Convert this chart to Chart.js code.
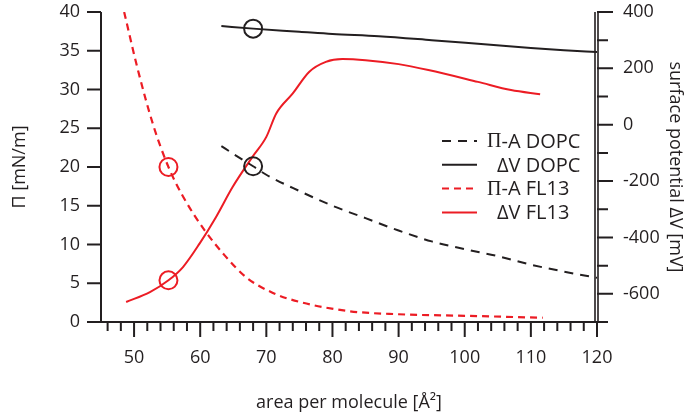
<!DOCTYPE html>
<html>
<head>
<meta charset="utf-8">
<script src="https://cdn.jsdelivr.net/npm/chart.js@4.4.1/dist/chart.umd.min.js"></script>
<style>
  html, body { margin: 0; padding: 0; background: #fff; }
</style>
</head>
<body>
<canvas id="chart" width="686" height="420"></canvas>
<script>
// Data

var areaPiDOPC = [63.2, 65, 68, 70, 75, 80, 85, 90, 95, 100, 105, 110, 115, 120];
var piDOPC     = [22.7, 21.7, 20.1, 19.0, 16.9, 15.0, 13.4, 11.8, 10.4, 9.4, 8.5, 7.4, 6.5, 5.7];

var areaDvDOPC = [63.2, 68, 75, 80, 87, 95, 102, 110, 115, 120];
var dvDOPC     = [350, 341, 330, 322, 314, 300, 287, 272, 264, 258];

var areaPiFL13 = [48.5, 50.5, 52.9, 55.2, 57.4, 60.7, 63.7, 66.9, 71, 75, 82.5, 90, 100, 111.8];
var piFL13     = [40, 32.8, 25.4, 20.0, 16.2, 11.8, 8.6, 5.8, 3.75, 2.6, 1.4, 1.0, 0.8, 0.55];

var areaDvFL13 = [48.8, 52.4, 55.2, 57.4, 59.9, 62.4, 64.9, 67.9, 70, 71.5, 74, 76.5, 79, 81.5, 85, 90, 94.5, 102, 107, 111.4];
var dvFL13     = [-629, -594, -552, -505, -422, -327, -221, -114, -43, 40, 111, 188, 223, 233, 229, 215, 194, 152, 123, 108];

// circled points
var markDOPC = 68;
var markFL13 = 55.2;

var xTicks  = [50, 60, 70, 80, 90, 100, 110, 120];
var piTicks = [0, 5, 10, 15, 20, 25, 30, 35, 40];
var dvTicks = [-600, -400, -200, 0, 200, 400];

var ink = '#231f20';
var red = '#ec1c24';

function pts(xs, ys) {
    return xs.map(function (x, i) { return { x: x, y: ys[i] }; });
}

function ring(mark) {
    return function (ctx) {
        return ctx.raw && ctx.raw.x === mark ? 9 : 0;
    };
}

Chart.defaults.font.family = "'Open Sans', sans-serif";
Chart.defaults.font.size = 18;
Chart.defaults.color = ink;

// Axis lines + major/minor ticks

var axisPlugin = {
    id: 'axes',
    afterDraw: function (chart) {
        var c = chart.ctx, a = chart.chartArea;
        var sx = chart.scales.x, sl = chart.scales.y, sr = chart.scales.y1;
        c.save();
        c.strokeStyle = ink;
        c.lineWidth = 2;
        c.beginPath();
        c.moveTo(a.left, a.top); c.lineTo(a.left, a.bottom);
        c.moveTo(a.left, a.bottom); c.lineTo(a.right, a.bottom);
        piTicks.forEach(function (v) {
            var p = sl.getPixelForValue(v);
            c.moveTo(a.left - 14, p); c.lineTo(a.left, p);
        });
        for (var v = 46; v <= 120; v += 2) {
            var p = sx.getPixelForValue(v);
            c.moveTo(p, a.bottom); c.lineTo(p, a.bottom + (v % 10 === 0 ? 15 : 9));
        }
        for (var w = -700; w <= 400; w += 100) {
            var q = sr.getPixelForValue(w);
            c.moveTo(a.right, q); c.lineTo(a.right + (w % 200 === 0 ? 16 : 11), q);
        }
        c.stroke();
        // right axis drawn double
        c.lineWidth = 1.6;
        c.beginPath();
        c.moveTo(a.right - 2, a.top); c.lineTo(a.right - 2, a.bottom);
        c.moveTo(a.right + 1, a.top); c.lineTo(a.right + 1, a.bottom);
        c.stroke();
        c.restore();
    }
};

// Legend inside the plot (Π set in a serif face like the original)

var legendPlugin = {
    id: 'innerLegend',
    afterDatasetsDraw: function (chart) {
        var c = chart.ctx;
        var x0 = 442, y0 = 141, gap = 23.8;
        c.save();
        c.textBaseline = 'middle';
        c.fillStyle = ink;
        chart.data.datasets.forEach(function (ds, i) {
            var y = y0 + i * gap;
            c.strokeStyle = ds.borderColor;
            c.lineWidth = 2;
            c.setLineDash(ds.borderDash || []);
            c.beginPath(); c.moveTo(x0, y); c.lineTo(x0 + 35, y); c.stroke();
            c.setLineDash([]);
            var label = ds.label, tx = x0 + 45;
            if (label.charAt(0) === 'Π') {
                c.font = "20px 'Liberation Serif'";
                c.fillText('Π', tx, y + 1);
                tx += c.measureText('Π').width;
                label = label.slice(1);
            } else {
                tx = x0 + 55;
            }
            c.font = "20px 'Open Sans'";
            c.fillText(label, tx, y + 1);
        });
        c.restore();
    }
};

function flatPad(s) {
    s.paddingTop = 0;
    s.paddingBottom = 0;
}

new Chart(document.getElementById('chart'), {
    type: 'line',
    data: {
        datasets: [
            {
                label: 'Π-A DOPC',
                data: pts(areaPiDOPC, piDOPC),
                yAxisID: 'y',
                borderColor: ink,
                borderWidth: 2,
                borderDash: [9, 7],
                pointRadius: ring(markDOPC),
                pointBorderColor: ink,
                pointBackgroundColor: 'rgba(0,0,0,0)',
                pointBorderWidth: 2
            },
            {
                label: 'ΔV DOPC',
                data: pts(areaDvDOPC, dvDOPC),
                yAxisID: 'y1',
                borderColor: ink,
                borderWidth: 2,
                pointRadius: ring(markDOPC),
                pointBorderColor: ink,
                pointBackgroundColor: 'rgba(0,0,0,0)',
                pointBorderWidth: 2
            },
            {
                label: 'Π-A FL13',
                data: pts(areaPiFL13, piFL13),
                yAxisID: 'y',
                borderColor: red,
                borderWidth: 2.2,
                borderDash: [7, 5],
                pointRadius: ring(markFL13),
                pointBorderColor: red,
                pointBackgroundColor: 'rgba(0,0,0,0)',
                pointBorderWidth: 2
            },
            {
                label: 'ΔV FL13',
                data: pts(areaDvFL13, dvFL13),
                yAxisID: 'y1',
                borderColor: red,
                borderWidth: 2,
                pointRadius: ring(markFL13),
                pointBorderColor: red,
                pointBackgroundColor: 'rgba(0,0,0,0)',
                pointBorderWidth: 2
            }
        ]
    },
    options: {
        responsive: false,
        animation: false,
        cubicInterpolationMode: 'monotone',
        layout: { padding: { top: 12, left: 0, right: 0, bottom: 0 } },
        plugins: {
            legend: { display: false },
            tooltip: { enabled: false }
        },
        scales: {
            x: {
                type: 'linear',
                min: 45,
                max: 120,
                grid: { display: false, drawTicks: false },
                border: { display: false },
                ticks: {
                    stepSize: 10,
                    padding: 25,
                    maxRotation: 0,
                    autoSkip: false,
                    callback: function (v) { return xTicks.indexOf(v) >= 0 ? v : ''; }
                },
                title: { display: true, text: 'area per molecule [Å²]', padding: { top: 0, bottom: 6 } },
                afterFit: function (s) { s.height = 98; s.paddingLeft = 0; s.paddingRight = 0; }
            },
            y: {
                position: 'left',
                min: 0,
                max: 40,
                grid: { display: false, drawTicks: false },
                border: { display: false },
                ticks: {
                    stepSize: 5,
                    padding: 21,
                    callback: function (v) { return piTicks.indexOf(v) >= 0 ? v : ''; }
                },
                title: { display: true, text: 'Π [mN/m]', padding: { top: 9, bottom: 0 } },
                afterFit: function (s) { s.width = 101; flatPad(s); }
            },
            y1: {
                position: 'right',
                min: -700,
                max: 400,
                grid: { display: false, drawTicks: false },
                border: { display: false },
                ticks: {
                    stepSize: 100,
                    padding: 26,
                    autoSkip: false,
                    callback: function (v) { return dvTicks.indexOf(v) >= 0 ? v : ''; }
                },
                title: { display: true, text: 'surface potential ΔV [mV]', padding: { top: 0, bottom: 0 } },
                afterFit: function (s) { s.width = 89; flatPad(s); }
            }
        }
    },
    plugins: [axisPlugin, legendPlugin]
});
</script>
</body>
</html>
